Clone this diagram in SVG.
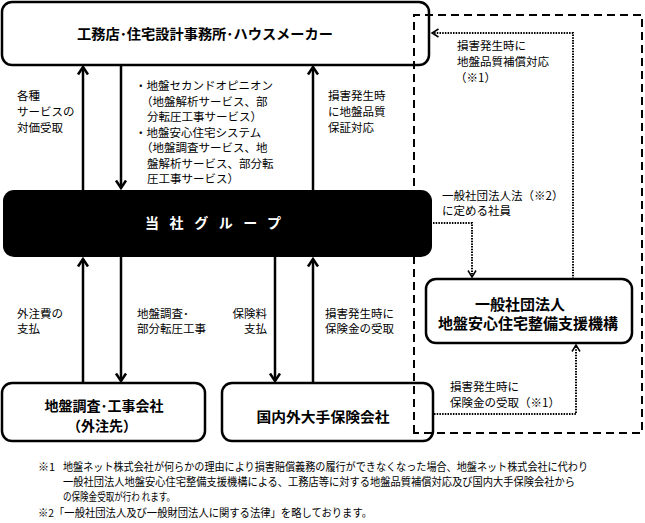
<svg xmlns="http://www.w3.org/2000/svg" width="645" height="523" viewBox="0 0 645 523">
<style>
text{font-family:"Noto Sans CJK JP","Noto Sans CJK SC",sans-serif;fill:#000;dominant-baseline:central}
.lb{font-size:11.5px}
.fn{font-size:11px}
.bt{font-size:14px;font-weight:bold}
.box{fill:#fff;stroke:#000;stroke-width:2.5}
.thick{stroke:#000;stroke-width:2.5;fill:none}
.dot{stroke:#000;stroke-width:2;stroke-dasharray:1.5,1.2;fill:none}
.dash{stroke:#000;stroke-width:2;stroke-dasharray:8,5;fill:none}
</style>
<defs>
<marker id="ah" markerUnits="userSpaceOnUse" markerWidth="14" markerHeight="14" refX="0" refY="0" viewBox="-9 -7 11 14" orient="auto">
<path d="M-7.5,-5 L0,0 L-7.5,5" fill="none" stroke="#000" stroke-width="2.5"/>
</marker>
<marker id="ad" markerUnits="userSpaceOnUse" markerWidth="12" markerHeight="12" refX="0" refY="0" viewBox="-8 -6 10 12" orient="auto">
<path d="M-6.5,-4 L0,0 L-6.5,4" fill="none" stroke="#000" stroke-width="1.5"/>
</marker>
</defs>
<rect width="645" height="523" fill="#fff"/>

<g id="top-box">
<rect class="box" x="2" y="2" width="427" height="63" rx="10"/>
<text class="bt" x="77" y="33" textLength="256" lengthAdjust="spacingAndGlyphs">工務店･住宅設計事務所･ハウスメーカー</text>
</g>

<g id="survey-box">
<rect class="box" x="2" y="383" width="203" height="58" rx="10"/>
<text class="bt" x="104" y="405" text-anchor="middle">地盤調査･工事会社</text>
<text class="bt" x="102" y="425" text-anchor="middle">（外注先）</text>
</g>

<g id="insurance-box">
<rect class="box" x="222" y="383" width="211" height="58" rx="10"/>
<text class="bt" x="323" y="416" text-anchor="middle" textLength="133" lengthAdjust="spacingAndGlyphs">国内外大手保険会社</text>
</g>

<g id="association-box">
<rect class="box" x="426" y="279" width="206" height="64" rx="10"/>
<text class="bt" x="520" y="303" text-anchor="middle" style="font-size:15px">一般社団法人</text>
<text class="bt" x="528" y="322" text-anchor="middle" style="font-size:15px" textLength="180" lengthAdjust="spacingAndGlyphs">地盤安心住宅整備支援機構</text>
</g>

<g id="dashed-boundary">
<path class="dash" d="M414,433 V15 H642 V433 Z"/>
</g>

<g id="group-box">
<rect x="3" y="190" width="429" height="67" rx="11" fill="#000"/>
<text x="145" y="222" textLength="136" lengthAdjust="spacing" style="font-size:14px;font-weight:bold;fill:#fff">当社グループ</text>
</g>

<g id="connectors">
<line class="thick" x1="83" y1="190" x2="83" y2="67" marker-end="url(#ah)"/>
<line class="thick" x1="121" y1="65" x2="121" y2="188" marker-end="url(#ah)"/>
<line class="thick" x1="313" y1="190" x2="313" y2="67" marker-end="url(#ah)"/>
<line class="thick" x1="83" y1="383" x2="83" y2="259" marker-end="url(#ah)"/>
<line class="thick" x1="121" y1="257" x2="121" y2="381" marker-end="url(#ah)"/>
<line class="thick" x1="275" y1="257" x2="275" y2="381" marker-end="url(#ah)"/>
<line class="thick" x1="313" y1="383" x2="313" y2="259" marker-end="url(#ah)"/>
<path class="dot" d="M573,279 V33 H432" marker-end="url(#ad)"/>
<path class="dot" d="M433,223 H472 V277" marker-end="url(#ad)"/>
<path class="dot" d="M434,414 H576 V345" marker-end="url(#ad)"/>
</g>

<g id="labels">
<text class="lb" x="17" y="95">各種</text>
<text class="lb" x="17" y="111">サービスの</text>
<text class="lb" x="17" y="127">対価受取</text>

<text class="lb" x="135" y="85">・地盤セカンドオピニオン</text>
<text class="lb" x="141" y="100.5">（地盤解析サービス、部</text>
<text class="lb" x="147" y="116">分転圧工事サービス）</text>
<text class="lb" x="135" y="131.5">・地盤安心住宅システム</text>
<text class="lb" x="141" y="147">（地盤調査サービス、地</text>
<text class="lb" x="147" y="162.5">盤解析サービス、部分転</text>
<text class="lb" x="147" y="178">圧工事サービス）</text>

<text class="lb" x="328" y="95">損害発生時</text>
<text class="lb" x="328" y="111">に地盤品質</text>
<text class="lb" x="328" y="127">保証対応</text>

<text class="lb" x="457" y="45">損害発生時に</text>
<text class="lb" x="457" y="61">地盤品質補償対応</text>
<text class="lb" x="455" y="77">（※1）</text>

<text class="lb" x="442" y="195">一般社団法人法（※2）</text>
<text class="lb" x="442" y="210">に定める社員</text>

<text class="lb" x="17" y="313">外注費の</text>
<text class="lb" x="17" y="328">支払</text>
<text class="lb" x="137" y="313">地盤調査･</text>
<text class="lb" x="137" y="328">部分転圧工事</text>
<text class="lb" x="267" y="313" text-anchor="end">保険料</text>
<text class="lb" x="267" y="328" text-anchor="end">支払</text>
<text class="lb" x="325" y="313">損害発生時に</text>
<text class="lb" x="325" y="328">保険金の受取</text>

<text class="lb" x="450" y="386">損害発生時に</text>
<text class="lb" x="450" y="402">保険金の受取（※1）</text>

<text class="fn" x="38" y="466">※1</text>
<text class="fn" x="63" y="466" textLength="525" lengthAdjust="spacingAndGlyphs">地盤ネット株式会社が何らかの理由により損害賠償義務の履行ができなくなった場合、地盤ネット株式会社に代わり</text>
<text class="fn" x="63" y="481" textLength="512" lengthAdjust="spacingAndGlyphs">一般社団法人地盤安心住宅整備支援機構による、工務店等に対する地盤品質補償対応及び国内大手保険会社から</text>
<text class="fn" x="63" y="496" textLength="112" lengthAdjust="spacingAndGlyphs">の保険金受取が行わ れます。</text>
<text class="fn" x="38" y="512" textLength="334" lengthAdjust="spacingAndGlyphs">※2「一般社団法人及び一般財団法人に関する法律」を略しております。</text>
</g>
</svg>
